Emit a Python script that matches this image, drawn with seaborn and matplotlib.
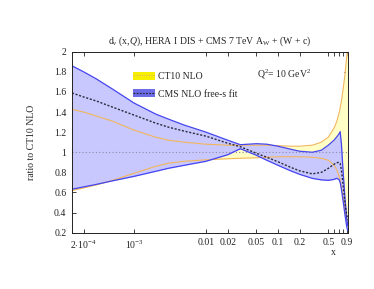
import numpy as np
import pandas as pd
import matplotlib
matplotlib.use("Agg")
import matplotlib.pyplot as plt
import seaborn as sns
from matplotlib.patches import Patch
from matplotlib.lines import Line2D
from matplotlib.legend_handler import HandlerTuple

# values
x = [1.38e-4, 2e-4, 3e-4, 5e-4, 1e-3, 2e-3, 3e-3, 5e-3, 0.01, 0.02, 0.03, 0.05,
     0.07, 0.1, 0.15, 0.2, 0.3, 0.4, 0.5, 0.6, 0.65, 0.7, 0.73, 0.76, 0.8,
     0.85, 0.9, 0.93]
cms_up = [1.86, 1.80, 1.73, 1.63, 1.49, 1.38, 1.33, 1.27, 1.20, 1.12, 1.075,
          1.085, 1.08, 1.06, 1.03, 1.01, 1.00, 1.02, 1.07, 1.12, 1.15, 1.18,
          1.205, 1.08, 0.82, 0.55, 0.34, 0.27]
cms_central = [1.59, 1.55, 1.51, 1.45, 1.37, 1.29, 1.25, 1.21, 1.16, 1.09,
               1.055, 0.99, 0.95, 0.905, 0.85, 0.815, 0.785, 0.80, 0.84, 0.88,
               0.895, 0.90, 0.89, 0.82, 0.68, 0.50, 0.38, 0.33]
cms_dn = [0.632, 0.655, 0.68, 0.715, 0.76, 0.81, 0.84, 0.87, 0.91, 0.975,
          1.035, 0.97, 0.92, 0.87, 0.815, 0.78, 0.74, 0.725, 0.72, 0.73, 0.74,
          0.73, 0.70, 0.63, 0.52, 0.38, 0.26, 0.22]
ct10_up = [1.427, 1.40, 1.36, 1.31, 1.22, 1.15, 1.12, 1.10, 1.08, 1.07, 1.07,
           1.07, 1.07, 1.065, 1.06, 1.06, 1.07, 1.10, 1.15, 1.24, 1.30, 1.38,
           1.44, 1.51, 1.62, 1.77, 1.95, 2.05]
ct10_dn = [0.618, 0.645, 0.675, 0.72, 0.79, 0.86, 0.89, 0.91, 0.925, 0.935,
           0.94, 0.945, 0.95, 0.955, 0.955, 0.955, 0.95, 0.94, 0.92, 0.87,
           0.83, 0.77, 0.72, 0.66, 0.55, 0.43, 0.32, 0.27]

xticks = [2e-4, 1e-3, 0.01, 0.02, 0.05, 0.1, 0.2, 0.5, 0.6, 0.7, 0.8, 0.9]
xticklabels = [r"2$\cdot$10$^{-4}$", r"10$^{-3}$", "0.01", "0.02", "0.05",
               "0.1", "0.2", "0.5", "", "", "", "0.9"]
yticks = [0.2, 0.4, 0.6, 0.8, 1.0, 1.2, 1.4, 1.6, 1.8, 2.0]

df = pd.DataFrame({"x": x, "cms_up": cms_up, "cms_central": cms_central,
                   "cms_dn": cms_dn, "ct10_up": ct10_up, "ct10_dn": ct10_dn})

sns.set_style("ticks")
plt.rcParams["font.family"] = ["Liberation Serif", "DejaVu Serif"]
plt.rcParams["mathtext.fontset"] = "custom"
plt.rcParams["mathtext.rm"] = "Liberation Serif"
plt.rcParams["mathtext.it"] = "Liberation Serif:italic"
plt.rcParams["font.size"] = 7

YELLOW_FILL = "#ffffc6"
BLUE_FILL = "#c8c8ff"
ORANGE = "#f2b65a"
BLUE = "#4444f0"
DARK = "#2a2a3a"

fig = plt.figure(figsize=(3.74, 2.89), dpi=100)
ax = fig.add_axes([0.1925, 0.195, 0.738, 0.626])
ax.set_xscale("log")

ax.fill_between(df["x"], df["ct10_dn"], df["ct10_up"], color=YELLOW_FILL, lw=0)
ax.fill_between(df["x"], df["cms_dn"], df["cms_up"], color=BLUE_FILL, lw=0)
ax.axhline(1.0, color="#8a8aa8", lw=0.8, ls=(0, (1, 2)))

for col in ["ct10_up", "ct10_dn"]:
    sns.lineplot(data=df, x="x", y=col, ax=ax, color=ORANGE, lw=0.8)
for col in ["cms_up", "cms_dn"]:
    sns.lineplot(data=df, x="x", y=col, ax=ax, color=BLUE, lw=0.9)
sns.lineplot(data=df, x="x", y="cms_central", ax=ax, color=DARK, lw=1.0,
             ls=(0, (1.5, 1.2)))

ax.set_xlim(1.38e-4, 0.938)
ax.set_ylim(0.2, 2.0)
ax.set_xticks(xticks)
ax.set_xticklabels(xticklabels)
ax.xaxis.set_minor_locator(matplotlib.ticker.NullLocator())
ax.set_yticks(yticks)
ax.yaxis.set_major_formatter(matplotlib.ticker.FormatStrFormatter("%g"))
ax.tick_params(direction="in", length=3, width=0.6, top=True, right=True,
               labelsize=7, pad=4, colors="#222222")
for s in ax.spines.values():
    s.set_linewidth(0.7)
    s.set_color("#222222")

ax.set_xlabel("x", fontsize=7)
ax.xaxis.set_label_coords(0.946, -0.085)
ax.set_ylabel("ratio to CT10 NLO", fontsize=7)
ax.yaxis.set_label_coords(-0.13, 0.5)
ax.set_title(r"d$_v$ (x,$Q$), HERA I DIS + CMS 7 TeV A$_\mathrm{W}$ + (W + c)",
             fontsize=7, pad=6)

ax.text(0.669, 0.877, r"Q$^2$= 10 GeV$^2$", transform=ax.transAxes,
        fontsize=7, va="center", ha="left")

h1 = (Patch(facecolor="#f4f000", edgecolor="none"),
      Line2D([], [], color=ORANGE, lw=0.9, ls=(0, (1, 1))))
h2 = (Patch(facecolor="#6c6ce8", edgecolor="none"),
      Line2D([], [], color=DARK, lw=0.9, ls=(0, (1.5, 1))))
ax.legend([h1, h2], ["CT10 NLO", "CMS NLO free-s fit"],
          handler_map={tuple: HandlerTuple(ndivide=1, pad=0)},
          loc="upper left", bbox_to_anchor=(0.221, 0.89), frameon=False,
          borderaxespad=0, borderpad=0, handlelength=2.3, handleheight=0.9,
          handletextpad=0.3, labelspacing=0.85, fontsize=7)

fig.savefig("out.png", dpi=100)
